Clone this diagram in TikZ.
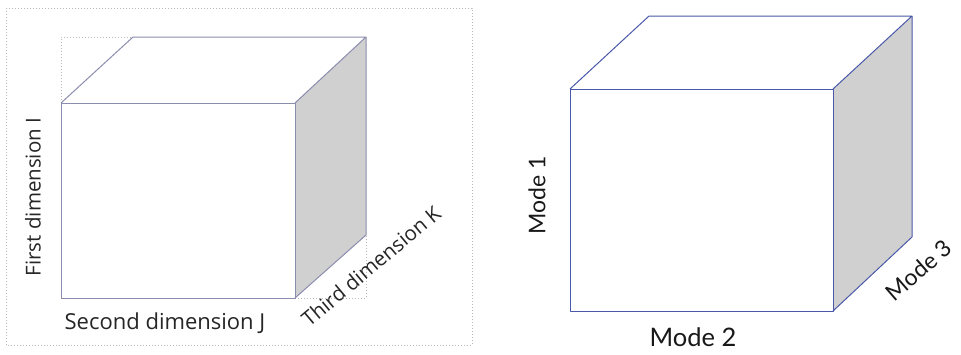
\documentclass[tikz,border=0pt]{standalone}
\usepackage{fontspec}
\newfontfamily\leftfont{Open Sans}
\newfontfamily\rightfont{Lato}
\definecolor{edgeL}{HTML}{8A8DAE}
\definecolor{edgeR}{HTML}{4A58AA}
\definecolor{sidefill}{HTML}{D0D0D0}
\definecolor{dotc}{HTML}{B8B8B8}
\tikzset{
  dotline/.style={draw=dotc, dotted, line width=1pt},
  cubeL/.style={draw=edgeL, line width=1pt, line join=round},
  cubeR/.style={draw=edgeR, line width=1pt, line join=round},
  lblL/.style={font=\leftfont\fontsize{20.5}{24}\selectfont, text=black!85, inner sep=0pt},
  lblR/.style={font=\rightfont\fontsize{23}{27}\selectfont, text=black!90, inner sep=0pt}
}
\begin{document}
\begin{tikzpicture}[x=1pt,y=-1pt]
\useasboundingbox (0,0) rectangle (961,354);
\fill[white] (0,0) rectangle (961,354);
% outer dotted frame
\coordinate (f1) at (6,8);
\coordinate (f2) at (472,345);
\draw[dotline] (f1) rectangle (f2);
% left cube
\coordinate (a1) at (61,103);  % front top-left
\coordinate (a2) at (295,103); % front top-right
\coordinate (a3) at (295,298); % front bottom-right
\coordinate (a4) at (61,298);  % front bottom-left
\coordinate (b1) at (133,37);  % back top-left
\coordinate (b2) at (366,37);  % back top-right
\coordinate (b3) at (366,235); % back bottom-right
\coordinate (c1) at (61,37);
\coordinate (c3) at (366,298);
\draw[dotline] (a1) -- (c1) -- (b1);
\draw[dotline] (a3) -- (c3) -- (b3);
\fill[sidefill] (a2) -- (b2) -- (b3) -- (a3) -- cycle;
\draw[cubeL] (a1) -- (a2) -- (a3) -- (a4) -- cycle;
\draw[cubeL] (a1) -- (b1) -- (b2) -- (a2);
\draw[cubeL] (b2) -- (b3) -- (a3);
\node[lblL, rotate=90] (l1) at (33,197) {First dimension I};
\node[lblL, font=\leftfont\fontsize{22}{26}\selectfont] (l2) at (165,323) {Second dimension J};
\node[lblL, rotate=40] (l3) at (371,266) {Third dimension K};
% right cube
\coordinate (p1) at (570,89);
\coordinate (p2) at (833,89);
\coordinate (p3) at (833,311);
\coordinate (p4) at (570,311);
\coordinate (q1) at (649,16);
\coordinate (q2) at (912,16);
\coordinate (q3) at (912,237);
\fill[sidefill] (p2) -- (q2) -- (q3) -- (p3) -- cycle;
\draw[cubeR] (p1) -- (p2) -- (p3) -- (p4) -- cycle;
\draw[cubeR] (p1) -- (q1) -- (q2) -- (p2);
\draw[cubeR] (q2) -- (q3) -- (p3);
\node[lblR, rotate=90] (m1) at (537,195) {Mode 1};
\node[lblR, font=\rightfont\fontsize{25.5}{30}\selectfont] (m2) at (693,337) {Mode 2};
\node[lblR, rotate=41] (m3) at (919,270) {Mode 3};
\end{tikzpicture}
\end{document}
